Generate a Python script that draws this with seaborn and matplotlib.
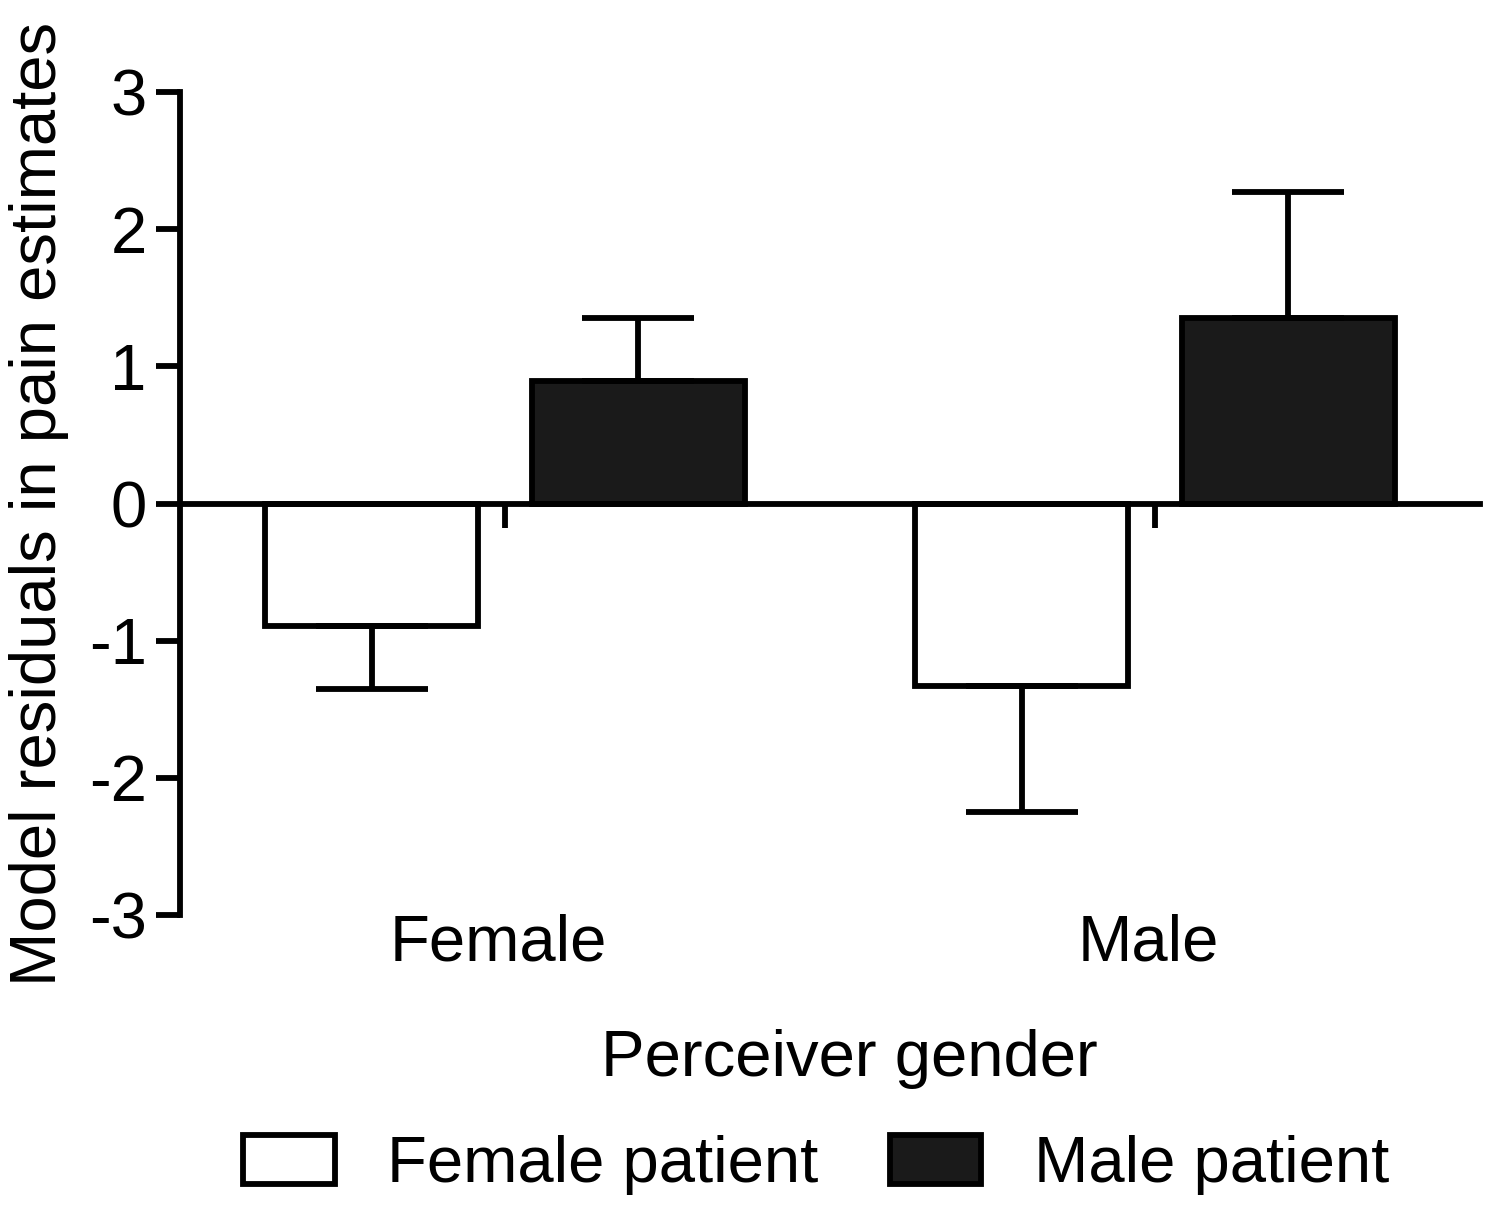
import numpy as np
import pandas as pd
import matplotlib
matplotlib.use('Agg')
import matplotlib.pyplot as plt
import matplotlib.transforms as mtransforms
import seaborn as sns

# ==================== data ====================
perceivers = ['Female', 'Male']
patients = ['Female patient', 'Male patient']
female_patient_mean = [-0.89, -1.33]
male_patient_mean = [0.89, 1.35]
female_patient_sem = [0.46, 0.92]
male_patient_sem = [0.46, 0.92]
yticks = [-3, -2, -1, 0, 1, 2, 3]

df = pd.DataFrame({
    'perceiver': perceivers * 2,
    'patient': [patients[0]] * 2 + [patients[1]] * 2,
    'residual': female_patient_mean + male_patient_mean,
})
sems = [female_patient_sem, male_patient_sem]

# ==================== style ====================
sns.set_style('ticks')
plt.rcParams['font.family'] = ['Liberation Sans', 'DejaVu Sans']
plt.rcParams['axes.unicode_minus'] = False
plt.rcParams['text.color'] = 'black'
plt.rcParams['axes.labelcolor'] = 'black'
FS = 47
LW = 4.2

fig = plt.figure(figsize=(15, 12.16), dpi=100)
ax = fig.add_axes([0.12, 0.2475, 0.8667, 0.6768])

sns.barplot(data=df, x='perceiver', y='residual', hue='patient',
            order=perceivers, hue_order=patients,
            palette={patients[0]: 'white', patients[1]: '#1a1a1a'},
            edgecolor='black', linewidth=LW, errorbar=None,
            width=0.82, gap=0.2, ax=ax)

# one-sided error bars (away from zero)
for cont, sem in zip(ax.containers, sems):
    for bar, s in zip(cont, sem):
        x = bar.get_x() + bar.get_width() / 2
        val = bar.get_y() + bar.get_height()
        lower = s if val < 0 else 0
        upper = s if val > 0 else 0
        ax.errorbar(x, val, yerr=[[lower], [upper]], fmt='none', ecolor='black',
                    elinewidth=LW, capsize=40, capthick=LW, zorder=3)

# axes
ax.set_ylim(-3, 3)
ax.set_xlim(-0.5, 1.5)
ax.set_yticks(yticks)
ax.set_yticklabels([str(t) for t in yticks])
ax.spines['top'].set_visible(False)
ax.spines['right'].set_visible(False)
ax.spines['bottom'].set_position(('data', 0))
for side in ['left', 'bottom']:
    ax.spines[side].set_linewidth(LW)
    ax.spines[side].set_color('black')
ax.tick_params(axis='y', labelsize=FS, length=17, width=LW, pad=7, colors='black')
ax.tick_params(axis='x', length=17, width=LW, labelbottom=False, colors='black')
ax.set_xlabel('')
ax.set_ylabel('Model residuals in pain estimates', fontsize=FS, labelpad=14)

# category labels under the axis
trans = mtransforms.blended_transform_factory(ax.transData, ax.transAxes)
for i, name in enumerate(perceivers):
    ax.text(i - 0.01, -0.035, name, transform=trans, ha='center', va='center', fontsize=FS)
ax.text(0.515, -0.196, 'Perceiver gender', transform=ax.transAxes,
        ha='center', va='baseline', fontsize=FS)

# legend below
handles, labels = ax.get_legend_handles_labels()
if ax.get_legend() is not None:
    ax.get_legend().remove()
fig.legend(handles, labels, loc='center', bbox_to_anchor=(0.544, 0.042), ncol=2,
           frameon=False, fontsize=FS, handlelength=1.4, handleheight=0.77,
           handletextpad=0.8, columnspacing=1.1)

fig.savefig('out.png', dpi=100, facecolor='white')
